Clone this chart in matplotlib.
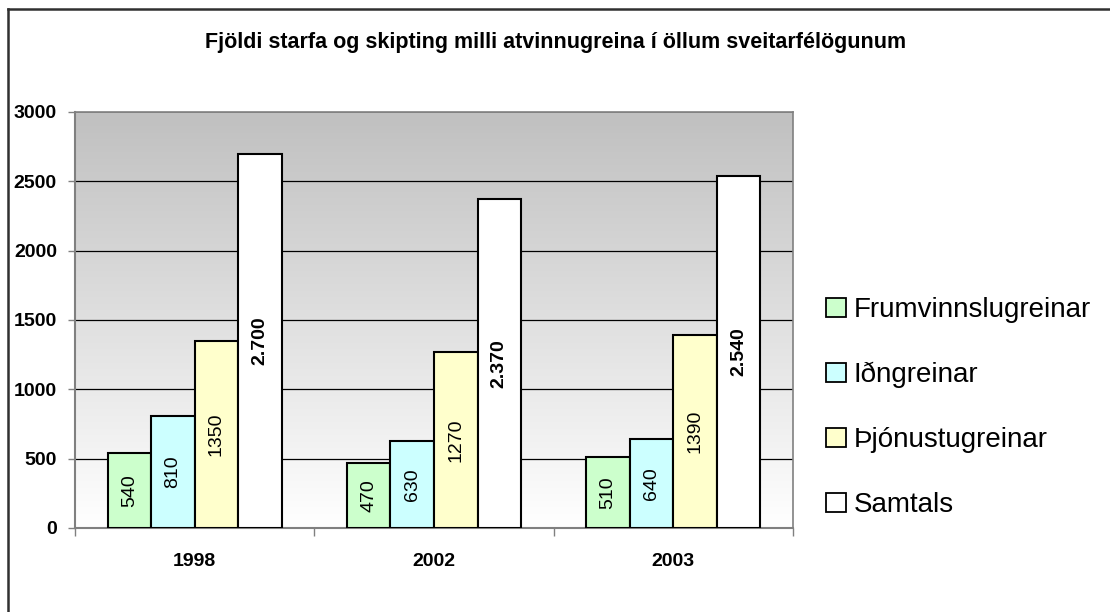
import matplotlib
matplotlib.use("Agg")
import matplotlib.pyplot as plt
import numpy as np
from matplotlib.lines import Line2D
from matplotlib.patches import Patch

plt.rcParams['font.family'] = ['Liberation Sans', 'DejaVu Sans']

years = ["1998", "2002", "2003"]
series = ["Frumvinnslugreinar", "Iðngreinar", "Þjónustugreinar", "Samtals"]
frum = [540, 470, 510]
idn = [810, 630, 640]
thjon = [1350, 1270, 1390]
samtals = [2700, 2370, 2540]
colors = ["#CCFFCC", "#CCFFFF", "#FFFFCC", "#FFFFFF"]
yticks = [0, 500, 1000, 1500, 2000, 2500, 3000]

W, H = 1110, 612
fig = plt.figure(figsize=(W/100, H/100), dpi=100)
ax = fig.add_axes([75/W, (H-528)/H, 718/W, 416/H])

# gradient background
grad = np.linspace(1, 0, 256).reshape(-1, 1)
top = np.array([192, 192, 192]) / 255
bot = np.array([255, 255, 255]) / 255
img = top[None, None, :] * grad[:, :, None] + bot[None, None, :] * (1 - grad[:, :, None])
ax.imshow(img, extent=[-0.5, 2.5, 0, 3000], aspect='auto', zorder=0)

ax.set_xlim(-0.5, 2.5)
ax.set_ylim(0, 3000)

bw = 1 / 5.5
x = np.arange(len(years))
data = [frum, idn, thjon, samtals]
for i, (vals, col) in enumerate(zip(data, colors)):
    xs = x + (i - 1.5) * bw
    ax.bar(xs, vals, width=bw, color=col, edgecolor='black', linewidth=1.5, zorder=3)
    for xx, v in zip(xs, vals):
        if i < 3:
            ax.text(xx, v / 2, str(v), rotation=90, ha='center', va='center',
                    fontsize=14, zorder=4)
        else:
            lab = f"{v // 1000}.{v % 1000:03d}"
            ax.text(xx, v / 2, lab, rotation=90, ha='center', va='center',
                    fontsize=14, fontweight='bold', zorder=4)

for yv in yticks[1:-1]:
    ax.axhline(yv, color='black', linewidth=0.9, zorder=1)
ax.axhline(3000, color='#808080', linewidth=1.2, zorder=1)

ax.set_yticks(yticks)
ax.set_yticklabels([str(t) for t in yticks], fontsize=14, fontweight='bold')
ax.set_xticks(x)
ax.set_xticklabels(years, fontsize=14, fontweight='bold')
ax.tick_params(axis='x', length=0, pad=18)
ax.tick_params(axis='y', length=5, width=1, color='#808080', pad=8)
ax.set_xticks([-0.5, 0.5, 1.5, 2.5], minor=True)
ax.tick_params(axis='x', which='minor', length=6, width=1, color='#808080', direction='out')

for s in ['top', 'right']:
    ax.spines[s].set_color('#808080')
    ax.spines[s].set_linewidth(1.2)
ax.spines['left'].set_color('#808080')
ax.spines['left'].set_linewidth(1.5)
ax.spines['bottom'].set_color('#808080')
ax.spines['bottom'].set_linewidth(1.5)

fig.text(556/W, 1 - 48/H, "Fjöldi starfa og skipting milli atvinnugreina í öllum sveitarfélögunum",
         ha='center', va='baseline', fontsize=15.5, fontweight='bold')

handles = [Patch(facecolor=c, edgecolor='black', linewidth=1.3) for c in colors]
leg = fig.legend(handles, series, loc='upper left', bbox_to_anchor=(826/W, 1 - 297/H),
                 frameon=False, fontsize=20, handlelength=0.72, handleheight=0.66,
                 handletextpad=0.28, labelspacing=1.4, borderpad=0, borderaxespad=0)

fig.add_artist(Line2D([8/W, 1], [1 - 9/H, 1 - 9/H], color='#303030', linewidth=1.8))
fig.add_artist(Line2D([8/W, 8/W], [1 - 9/H, 0], color='#303030', linewidth=1.8))

fig.savefig("out.png", dpi=100)
